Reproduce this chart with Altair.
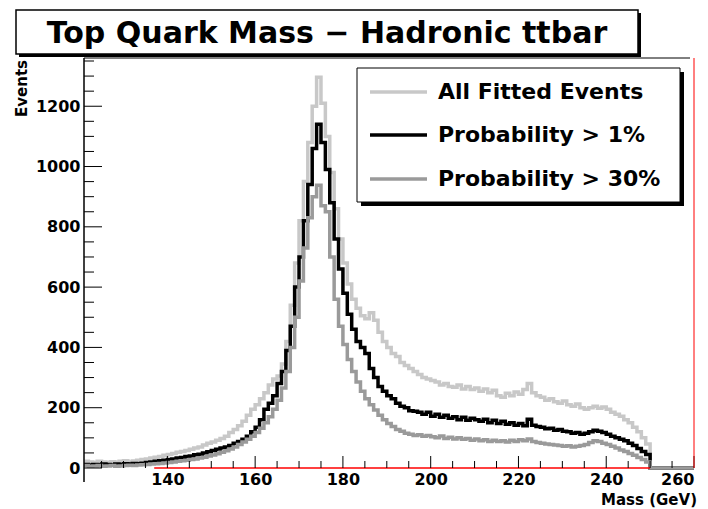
import altair as alt
import pandas as pd

# ---------------- data ----------------
mass_edges = list(range(121, 261))  # low edges of 1 GeV bins, 260 closes the last bin

all_fitted = [
    22, 20, 18, 22, 20, 18, 21, 19, 22, 24,
    20, 23, 26, 28, 30, 33, 36, 38, 42, 45,
    48, 52, 55, 58, 62, 66, 70, 76, 82, 86,
    92, 98, 105, 118, 128, 140, 155, 175, 195, 210,
    230, 250, 275, 295, 305, 345, 420, 540, 680, 820,
    950, 1080, 1200, 1296, 1210, 1100, 980, 860, 760, 680,
    610, 560, 530, 505, 495, 515, 490, 450, 420, 400,
    380, 370, 350, 340, 330, 320, 310, 300, 295, 290,
    285, 275, 280, 270, 268, 275, 262, 270, 260, 265,
    255, 262, 250, 258, 240, 235, 248, 240, 252, 245,
    260, 280, 250, 240, 235, 225, 230, 220, 215, 222,
    210, 205, 212, 200, 195, 200, 205, 198, 202, 195,
    185, 178, 172, 160, 150, 135, 120, 100, 80,
]
prob_1 = [
    12, 10, 12, 11, 13, 12, 10, 13, 12, 14,
    13, 15, 14, 16, 18, 20, 22, 24, 26, 28,
    30, 33, 35, 38, 40, 44, 46, 50, 54, 58,
    62, 66, 70, 75, 82, 88, 95, 105, 120, 135,
    160, 195, 215, 240, 280, 320, 390, 470, 600, 700,
    820, 940, 1060, 1140, 1080, 990, 880, 760, 660, 580,
    510, 460, 420, 400, 380, 330, 300, 270, 255, 240,
    230, 215, 205, 200, 190, 188, 185, 178, 185, 172,
    178, 168, 175, 165, 170, 160, 168, 158, 165, 160,
    155, 162, 150, 158, 148, 155, 145, 150, 142, 148,
    140, 162, 142, 138, 135, 130, 132, 125, 128, 122,
    120, 115, 118, 112, 115, 120, 125, 122, 118, 112,
    105, 100, 95, 90, 82, 75, 65, 55, 45,
]
prob_30 = [
    8, 6, 7, 8, 6, 7, 8, 6, 7, 8,
    9, 8, 10, 11, 12, 13, 14, 15, 17, 18,
    20, 22, 24, 26, 28, 30, 33, 36, 40, 43,
    47, 52, 57, 63, 70, 78, 86, 95, 105, 118,
    132, 150, 170, 195, 225, 265, 320, 400, 500, 620,
    730, 830, 900, 938, 870, 850, 700, 560, 470, 410,
    360, 320, 285, 255, 230, 210, 192, 175, 160, 148,
    138, 128, 122, 115, 112, 108, 110, 105, 108, 104,
    100, 106, 98, 102, 96, 100, 95, 98, 92, 96,
    90, 94, 88, 92, 88, 90, 86, 92, 88, 94,
    90, 96, 88, 85, 82, 80, 78, 76, 75, 72,
    74, 70, 72, 75, 78, 85, 90, 88, 82, 78,
    72, 66, 60, 55, 48, 42, 35, 28, 20,
]

series_names = ["All Fitted Events", "Probability > 1%", "Probability > 30%"]
series_colors = ["#c8c8c8", "#000000", "#9a9a9a"]

y_major = [0, 200, 400, 600, 800, 1000, 1200]
y_minor = [v for v in range(50, 1360, 50) if v % 200 != 0]
x_major = [140, 160, 180, 200, 220, 240, 260]
x_minor = [v for v in range(125, 260, 5) if v % 20 != 0]
red_line = {"x1": [137], "x2": [250], "y": [0]}

title_text = "Top Quark Mass \u2212 Hadronic ttbar"

# ---------------- layout ----------------
W, H = 610, 410
FONT = "DejaVu Sans"
xs = alt.Scale(domain=[121, 260], nice=False, zero=False)
ys = alt.Scale(domain=[0, 1360], nice=False)
xax = alt.Axis(values=x_major, ticks=False, domain=False, grid=False, format="d",
               labelFont=FONT, labelFontWeight="bold", labelFontSize=16,
               labelPadding=3, labelColor="black", title=None)
yax = alt.Axis(values=y_major, ticks=False, domain=False, grid=False, format="d",
               labelFont=FONT, labelFontWeight="bold", labelFontSize=16,
               labelPadding=4, labelColor="black", title=None)


def pad(vals):
    return vals + [0] * (len(mass_edges) - len(vals))


def hist_layer(vals, color):
    df = pd.DataFrame({"mass": mass_edges, "events": pad(vals)})
    return alt.Chart(df).mark_line(interpolate="step-after", color=color,
                                   strokeWidth=3.5).encode(
        x=alt.X("mass:Q", scale=xs, axis=xax),
        y=alt.Y("events:Q", scale=ys, axis=yax),
    )


one = pd.DataFrame({"a": [0]})

layers = []
layers.append(hist_layer(all_fitted, series_colors[0]))
layers.append(hist_layer(prob_1, series_colors[1]))
layers.append(hist_layer(prob_30, series_colors[2]))

# red line along zero
layers.append(alt.Chart(pd.DataFrame(red_line)).mark_rule(color="red", strokeWidth=1.5).encode(
    x=alt.X("x1:Q", scale=xs, axis=xax), x2="x2:Q",
    y=alt.Y("y:Q", scale=ys, axis=yax)))

# ticks (inward)
layers.append(alt.Chart(pd.DataFrame({"v": y_major})).mark_rule(color="black", strokeWidth=1).encode(
    y=alt.Y("v:Q", scale=ys, axis=yax), x=alt.value(0), x2=alt.value(18)))
layers.append(alt.Chart(pd.DataFrame({"v": y_minor})).mark_rule(color="black", strokeWidth=1).encode(
    y=alt.Y("v:Q", scale=ys, axis=yax), x=alt.value(0), x2=alt.value(10)))
layers.append(alt.Chart(pd.DataFrame({"v": x_major})).mark_rule(color="black", strokeWidth=1).encode(
    x=alt.X("v:Q", scale=xs, axis=xax), y=alt.value(H), y2=alt.value(H - 12)))
layers.append(alt.Chart(pd.DataFrame({"v": x_minor})).mark_rule(color="black", strokeWidth=1).encode(
    x=alt.X("v:Q", scale=xs, axis=xax), y=alt.value(H), y2=alt.value(H - 7)))

# frame
layers.append(alt.Chart(one).mark_rule(color="black", strokeWidth=1.5).encode(
    x=alt.value(0), y=alt.value(0), y2=alt.value(H + 14)))
layers.append(alt.Chart(one).mark_rule(color="black", strokeWidth=1).encode(
    x=alt.value(0), x2=alt.value(W - 4), y=alt.value(0)))
layers.append(alt.Chart(one).mark_rule(color="red", strokeWidth=1).encode(
    x=alt.value(W), y=alt.value(0), y2=alt.value(H)))

# axis titles
layers.append(alt.Chart(one).mark_text(text="Events", font=FONT, fontWeight="bold", fontSize=15,
                                       angle=270, align="right", baseline="middle", color="black").encode(
    x=alt.value(-62), y=alt.value(2)))
layers.append(alt.Chart(one).mark_text(text="Mass (GeV)", font=FONT, fontWeight="bold", fontSize=15,
                                       align="right", baseline="middle", color="black").encode(
    x=alt.value(W + 3), y=alt.value(H + 32)))

# title box
layers.append(alt.Chart(one).mark_rect(color="black").encode(
    x=alt.value(-65), x2=alt.value(557), y=alt.value(-45), y2=alt.value(-1)))
layers.append(alt.Chart(one).mark_rect(fill="white", stroke="black", strokeWidth=1.5).encode(
    x=alt.value(-68), x2=alt.value(554), y=alt.value(-48), y2=alt.value(-4)))
layers.append(alt.Chart(one).mark_text(text=title_text, font=FONT, fontWeight="bold", fontSize=30,
                                       align="center", baseline="alphabetic", color="black").encode(
    x=alt.value(243), y=alt.value(-15)))

# legend box
layers.append(alt.Chart(one).mark_rect(color="black").encode(
    x=alt.value(277), x2=alt.value(600), y=alt.value(14), y2=alt.value(148)))
layers.append(alt.Chart(one).mark_rect(fill="white", stroke="black", strokeWidth=1).encode(
    x=alt.value(273), x2=alt.value(596), y=alt.value(10), y2=alt.value(144)))
row_y = [34, 77, 121]
for name, col, ry in zip(series_names, series_colors, row_y):
    layers.append(alt.Chart(one).mark_rule(color=col, strokeWidth=3.5).encode(
        x=alt.value(286), x2=alt.value(343), y=alt.value(ry)))
    layers.append(alt.Chart(one).mark_text(text=name, font=FONT, fontWeight="bold", fontSize=22,
                                           align="left", baseline="middle", color="black").encode(
        x=alt.value(354), y=alt.value(ry)))

chart = alt.layer(*layers).properties(
    width=W, height=H,
    padding={"left": 84, "top": 58, "right": 14, "bottom": 41},
    autosize="none",
    background="white",
).configure_view(stroke=None)

chart.save("out.html", embed_options={"renderer": "svg", "actions": False})
